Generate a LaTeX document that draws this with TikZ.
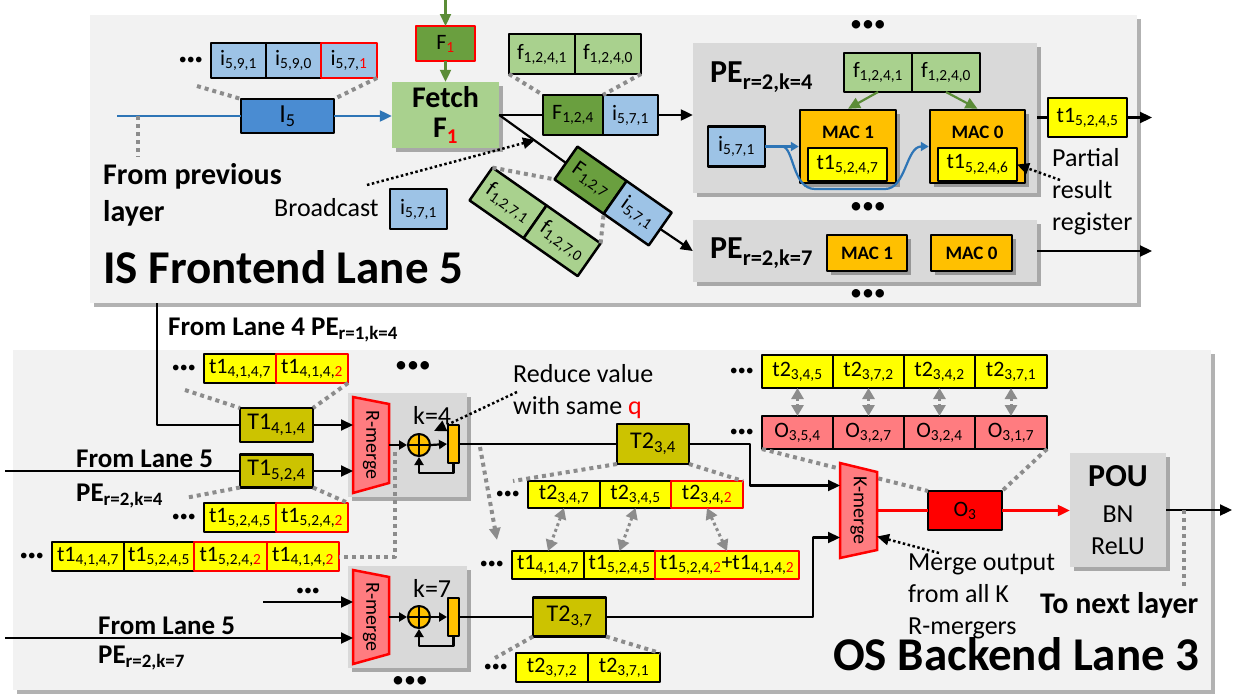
\documentclass[tikz,border=0pt]{standalone}
\usepackage{fontspec}
\setmainfont{Carlito}
\usepackage{xcolor}
\usetikzlibrary{arrows.meta,positioning,shadows,calc}

\definecolor{panel}{HTML}{F2F2F2}
\definecolor{pegray}{HTML}{D9D9D9}
\definecolor{iblue}{HTML}{9DC3E6}
\definecolor{Iblue}{HTML}{4A8CD2}
\definecolor{lineblue}{HTML}{2E75B6}
\definecolor{fgreen}{HTML}{A9D18E}
\definecolor{Fgreen}{HTML}{6A9F3F}
\definecolor{arrgreen}{HTML}{5B8C37}
\definecolor{tyellow}{HTML}{FFFF00}
\definecolor{Tolive}{HTML}{CCC300}
\definecolor{osalmon}{HTML}{FF7C80}
\definecolor{macorange}{HTML}{FFC000}
\definecolor{dotgray}{HTML}{8C8C8C}

\newcommand{\sbs}[1]{\textsubscript{#1}}
\newcommand{\redtxt}[1]{\textcolor{red}{#1}}
\newcommand{\fsz}[2]{\fontsize{#1}{#2}\selectfont}
\newcommand{\threedots}{\textbullet\textbullet\textbullet}

\tikzset{
  every picture/.style={line join=round, >={Triangle[length=12pt,width=11pt]}},
  shdw/.style={drop shadow={shadow xshift=4pt, shadow yshift=-4pt, opacity=.3, fill=black}},
  wire/.style={line width=2.2pt},
  bwire/.style={wire, draw=lineblue},
  gwire/.style={wire, draw=arrgreen},
  rwire/.style={wire, draw=red},
  sarr/.style={-{Triangle[length=8pt,width=9pt]}},
  gdot/.style={draw=dotgray, line width=4pt, dash pattern=on 4pt off 4pt},
  gdot2/.style={draw=dotgray, line width=3pt, dash pattern=on 3pt off 3pt, <->, >={Triangle[length=11pt,width=12pt]}},
  bdot/.style={line width=2.5pt, dash pattern=on 2.5pt off 2.5pt},
  cell/.style={draw, line width=2.5pt, inner sep=0pt, outer sep=0pt, font=\fsz{22}{24}},
  hot/.style={draw=red},
  ic/.style={cell, fill=iblue},
  fc/.style={cell, fill=fgreen},
  Fc/.style={cell, fill=Fgreen},
  tc/.style={cell, fill=tyellow},
  Tc/.style={cell, fill=Tolive, font=\fsz{24}{26}},
  oc/.style={cell, fill=osalmon},
  pe/.style={fill=pegray, inner sep=0pt, shdw},
  mac/.style={draw, line width=2.5pt, fill=macorange, inner sep=0pt, shdw},
  macl/.style={font=\bfseries\fsz{19}{22}, inner sep=0pt},
  fetch/.style={fill=fgreen, shdw, minimum width=107pt, minimum height=66pt, align=center, font=\bfseries\fsz{30}{30}},
  mergebox/.style={minimum width=36pt, inner sep=0pt, outer sep=0pt},
  mergeshape/.style={draw=red, line width=2.5pt, fill=osalmon, line join=miter},
  mergetxt/.style={rotate=-90, inner sep=0pt, font=\fsz{20}{22}},
  adder/.style={circle, draw, line width=2pt, fill=macorange, minimum size=22pt, inner sep=0pt},
  reg/.style={draw, line width=2pt, fill=macorange, minimum width=11pt, inner sep=0pt},
  txt/.style={inner sep=0pt, font=\fsz{26}{32}},
  lbl/.style={inner sep=0pt, font=\bfseries\fsz{27}{32}},
  biglbl/.style={inner sep=0pt, font=\bfseries\fsz{30}{37}},
  pelbl/.style={inner sep=0pt, font=\bfseries\fsz{32}{36}},
  ttl/.style={inner sep=0pt, font=\bfseries\fsz{47}{50}},
  dotsbig/.style={inner sep=0pt, font=\fsz{24}{24}},
  dotssm/.style={inner sep=0pt, font=\fsz{16}{16}},
}

\begin{document}
\begin{tikzpicture}[x=1pt, y=-1pt]
\useasboundingbox (0,0) rectangle (1239,696);

% ---------------- IS frontend lane ----------------
\fill[panel, shdw] (90,15) rectangle (1137,303);
\node[ttl, anchor=base west] (istitle) at (103,283) {IS Frontend Lane 5};
\node[biglbl, align=left, anchor=west] (prevl) at (103,195) {From previous\\layer};

% input stream
\node[ic, minimum width=55pt, minimum height=35pt, anchor=west] (i591) at (211,60.5) {i\sbs{5,9,1}};
\node[ic, minimum width=55pt, minimum height=35pt, right=0pt of i591] (i590) {i\sbs{5,9,0}};
\node[ic, hot, minimum width=56pt, minimum height=35pt, right=0pt of i590] (i571) {i\sbs{5,7,\redtxt{1}}};
\node[dotssm, left=8pt of i591] (idots) {\threedots};
\node[cell, fill=Iblue, minimum width=93pt, minimum height=34pt, font=\fsz{26}{28}] (I5) at (287.5,116) {I\sbs{5}};
\coordinate (prev) at (117,116);
\coordinate (prevtap) at (138,116);
\coordinate (prevend) at (138,157);

% fetch unit
\coordinate (ftop) at (445.5,0);
\node[Fc, hot, minimum width=59pt, minimum height=35pt] (F1) at (445.5,43.5) {F\sbs{\redtxt{1}}};
\node[fetch] (fetch) at (445.5,115) {Fetch\\F\sbs{\redtxt{1}}};

% to PE k=4
\node[Fc, minimum width=60pt, minimum height=40pt] (F124) at (573,115) {F\sbs{1,2,4}};
\node[ic, minimum width=55pt, minimum height=40pt, right=0pt of F124] (i571a) {i\sbs{5,7,1}};
\node[fc, minimum width=66pt, minimum height=40pt, anchor=west] (f1241) at (509,54) {f\sbs{1,2,4,1}};
\node[fc, minimum width=66pt, minimum height=40pt, right=0pt of f1241] (f1240) {f\sbs{1,2,4,0}};

% to PE k=7
\node[Fc, rotate=-35, minimum width=60pt, minimum height=40pt, anchor=west] (F127) at (566,163) {F\sbs{1,2,7}};
\node[ic, rotate=-35, minimum width=55pt, minimum height=40pt, right=0pt of F127] (i571b) {i\sbs{5,7,1}};
\node[fc, rotate=-35, minimum width=66pt, minimum height=40pt, anchor=west] (f1271) at (481,184) {f\sbs{1,2,7,1}};
\node[fc, rotate=-35, minimum width=66pt, minimum height=40pt, right=0pt of f1271] (f1270) {f\sbs{1,2,7,0}};

% broadcast note
\node[txt, anchor=base west] (bcast) at (274,216) {Broadcast};
\node[ic, minimum width=57pt, minimum height=40pt] (i571c) at (418.5,209) {i\sbs{5,7,1}};
\coordinate (bctail) at (367,185);
\coordinate (bchead) at (535,140);

% PE r=2,k=4
\node[pe, minimum width=344pt, minimum height=150pt] (pe4) at (865,118) {};
\node[pelbl, anchor=base west] (pe4l) at (710,82) {PE\sbs{r=2,k=4}};
\node[dotsbig] (pe4up) at (868,26) {\threedots};
\node[dotsbig] (pe4dn) at (868,208) {\threedots};
\node[fc, minimum width=68pt, minimum height=39pt, anchor=west] (f1241p) at (844,72.5) {f\sbs{1,2,4,1}};
\node[fc, minimum width=68pt, minimum height=39pt, right=0pt of f1241p] (f1240p) {f\sbs{1,2,4,0}};
\node[mac, minimum width=96pt, minimum height=73pt] (mac1) at (848,146.5) {};
\node[macl] (mac1l) at (848,132.5) {MAC 1};
\node[tc, minimum width=79pt, minimum height=33pt] (t15247) at (847.5,164.5) {t1\sbs{5,2,4,7}};
\node[mac, minimum width=95pt, minimum height=73pt] (mac0) at (977.5,146.5) {};
\node[macl] (mac0l) at (977.5,132.5) {MAC 0};
\node[tc, minimum width=79pt, minimum height=33pt] (t15246) at (977.5,164.5) {t1\sbs{5,2,4,6}};
\node[ic, minimum width=57pt, minimum height=40pt] (i571d) at (736.5,146.5) {i\sbs{5,7,1}};
\node[tc, minimum width=79pt, minimum height=39pt] (t15245o) at (1087.5,117.5) {t1\sbs{5,2,4,5}};
\coordinate (out4) at (1152,117.5);
\node[txt, align=left, anchor=west] (prl) at (1052,191.5) {Partial\\result\\register};
\coordinate (prtail) at (1060,180);

% PE r=2,k=7
\node[pe, minimum width=344pt, minimum height=62pt] (pe7) at (865,251) {};
\node[pelbl, anchor=base west] (pe7l) at (710,258) {PE\sbs{r=2,k=7}};
\node[mac, font=\bfseries\fsz{19}{22}, minimum width=80pt, minimum height=36pt] (mac1b) at (867,253) {MAC 1};
\node[mac, font=\bfseries\fsz{19}{22}, minimum width=81pt, minimum height=36pt] (mac0b) at (971.5,253) {MAC 0};
\node[dotsbig] (pe7dn) at (868,295) {\threedots};
\coordinate (out7) at (1152,251);

% frontend connectors
\draw[gwire,->] (ftop) -- (F1.north);
\draw[gwire,->] (F1.south) -- (fetch.north);
\draw[bwire] (prev) -- (I5.west);
\draw[bwire,->] (I5.east) -- (I5.east -| fetch.west);
\draw[gdot] (prevtap) -- (prevend);
\draw[gdot] ([shift={(-14,8)}]i591.south west) -- (I5.north west);
\draw[gdot] (i571.south east) -- (I5.north east);
\draw[wire] (fetch.east) -- (F124.west);
\draw[wire,->] (i571a.east) -- (i571a.east -| pe4.west);
\draw[gdot] (f1241.south west) -- (F124.north west);
\draw[gdot] (f1240.south east) -- (F124.north east);
\draw[wire] (fetch.east) -- (F127.west);
\draw[wire,->] (i571b.east) -- (pe7.west);
\draw[gdot] (f1271.north west) -- (F127.south west);
\draw[gdot] (f1270.north east) -- (F127.south east);
\draw[bdot,->] (bctail) -- (bchead);
\draw[gwire,->] (f1241p.south) -- (mac1.north);
\draw[gwire,->] (f1240p.south) -- (mac0.north);
\draw[bwire,sarr] (i571d.east) -- (mac1.west);
\draw[bwire,sarr] ([xshift=17pt]i571d.east) .. controls (794,146.5) and (792,189) .. (815,189)
  -- (885,189) .. controls (906,189) and (906,146.5) .. (mac0.west);
\draw[wire] (t15245o.west -| pe4.east) -- (t15245o.west);
\draw[wire,->] (t15245o.east) -- (out4);
\draw[bdot,->] (prtail) -- (t15246.east);
\draw[wire,->] (pe7.east) -- (out7);

% ---------------- OS backend lane ----------------
\fill[panel, shdw] (13,350) rectangle (1211,690);
\node[ttl, anchor=base west] (ostitle) at (833,670) {OS Backend Lane 3};

% inputs of R-merger k=4
\coordinate (lane4) at (157,303);
\node[lbl, anchor=base west] (lane4l) at (168,335) {From Lane 4 PE\sbs{r=1,k=4}};
\node[tc, minimum width=72pt, minimum height=29pt, anchor=west] (t14147) at (204,368.5) {t1\sbs{4,1,4,7}};
\node[tc, hot, minimum width=72pt, minimum height=29pt, right=0pt of t14147] (t14142) {t1\sbs{4,1,4,\redtxt{2}}};
\node[dotssm, left=8pt of t14147] (d14) {\threedots};
\node[dotsbig] (rg1up) at (413,367) {\threedots};
\node[Tc, minimum width=73pt, minimum height=34pt] (T1414) at (276.5,425) {T1\sbs{4,1,4}};

\coordinate (lane5a) at (5,471);
\node[lbl, anchor=base west] (lane5al) at (76,467) {From Lane 5};
\node[lbl, anchor=base west] (lane5ap) at (76,501) {PE\sbs{r=2,k=4}};
\node[Tc, minimum width=73pt, minimum height=33pt] (T1524) at (276.5,471) {T1\sbs{5,2,4}};
\node[tc, minimum width=72pt, minimum height=29pt, anchor=west] (t15245) at (204,517.5) {t1\sbs{5,2,4,5}};
\node[tc, hot, minimum width=72pt, minimum height=29pt, right=0pt of t15245] (t15242) {t1\sbs{5,2,4,\redtxt{2}}};
\node[dotssm, left=8pt of t15245] (d15) {\threedots};

% merged queue
\node[tc, minimum width=72pt, minimum height=29pt, anchor=west] (qa) at (52,556.5) {t1\sbs{4,1,4,7}};
\node[tc, minimum width=70pt, minimum height=29pt, right=0pt of qa] (qb) {t1\sbs{5,2,4,5}};
\node[tc, hot, minimum width=73pt, minimum height=29pt, right=0pt of qb] (qc) {t1\sbs{5,2,4,\redtxt{2}}};
\node[tc, hot, minimum width=72pt, minimum height=29pt, right=0pt of qc] (qd) {t1\sbs{4,1,4,\redtxt{2}}};
\node[dotssm, left=8pt of qa] (dq) {\threedots};

% R-merger k=4
\node[pe, minimum width=119pt, minimum height=104pt] (rg1) at (407.5,445) {};
\node[mergebox, minimum height=96pt] (rm1) at (371,445) {};
\filldraw[mergeshape] (rm1.north west) -- ([yshift=-7pt]rm1.north east) -- ([yshift=10pt]rm1.south east) -- (rm1.south west) -- cycle;
\node[mergetxt] (rm1t) at (rm1.center) {R-merge};
\node[adder] (add1) at (419,445) {};
\node[reg, minimum height=38pt] (reg1) at (453.5,444) {};
\node[txt, anchor=base west] (k4) at (413,424) {k=4};
\node[txt, align=left, anchor=west] (redl) at (513,392) {Reduce value\\with same \redtxt{q}};
\coordinate (redtail) at (517,392);
\coordinate (tap1) at (395,452);
\coordinate (rgtap) at (480,447);
\coordinate (sumtap) at (497,540);

\node[Tc, minimum width=72pt, minimum height=40pt] (T234) at (653,444) {T2\sbs{3,4}};
\node[tc, minimum width=72pt, minimum height=27pt, anchor=west] (t2347) at (528,494.5) {t2\sbs{3,4,7}};
\node[tc, minimum width=71pt, minimum height=27pt, right=0pt of t2347] (t2345) {t2\sbs{3,4,5}};
\node[tc, hot, minimum width=72pt, minimum height=27pt, right=0pt of t2345] (t2342) {t2\sbs{3,4,\redtxt{2}}};
\node[dotssm, left=8pt of t2347] (dt2) {\threedots};

\node[tc, minimum width=72pt, minimum height=28pt, anchor=west] (s1) at (512,565) {t1\sbs{4,1,4,7}};
\node[tc, minimum width=71pt, minimum height=28pt, right=0pt of s1] (s2) {t1\sbs{5,2,4,5}};
\node[tc, hot, minimum width=144pt, minimum height=28pt, right=0pt of s2] (s3) {t1\sbs{5,2,4,\redtxt{2}}+t1\sbs{4,1,4,\redtxt{2}}};
\node[dotssm, left=8pt of s1] (ds) {\threedots};

% R-merger k=7
\coordinate (dotsin) at (263,602);
\node[dotssm] (din) at (308,592) {\threedots};
\coordinate (lane5b) at (5,638);
\node[lbl, anchor=base west] (lane5bl) at (98,634) {From Lane 5};
\node[lbl, anchor=base west] (lane5bp) at (98,663) {PE\sbs{r=2,k=7}};
\node[pe, minimum width=119pt, minimum height=102pt] (rg2) at (407.5,617) {};
\node[mergebox, minimum height=94pt] (rm2) at (371,617) {};
\filldraw[mergeshape] (rm2.north west) -- ([yshift=-7pt]rm2.north east) -- ([yshift=10pt]rm2.south east) -- (rm2.south west) -- cycle;
\node[mergetxt] (rm2t) at (rm2.center) {R-merge};
\node[adder] (add2) at (419,617) {};
\node[reg, minimum height=38pt] (reg2) at (453.5,617) {};
\node[txt, anchor=base west] (k7) at (413,597) {k=7};
\node[dotsbig] (rg2dn) at (410,682) {\threedots};

\node[Tc, minimum width=73pt, minimum height=39pt] (T237) at (569.5,617) {T2\sbs{3,7}};
\node[tc, minimum width=72pt, minimum height=29pt, anchor=west] (t2372) at (516,667.5) {t2\sbs{3,7,2}};
\node[tc, minimum width=72pt, minimum height=29pt, right=0pt of t2372] (t2371) {t2\sbs{3,7,1}};
\node[dotssm, left=8pt of t2372] (dt3) {\threedots};

% K-merger and output
\node[tc, minimum width=71pt, minimum height=33pt, anchor=west] (u1) at (762,371.5) {t2\sbs{3,4,5}};
\node[tc, minimum width=71pt, minimum height=33pt, right=0pt of u1] (u2) {t2\sbs{3,7,2}};
\node[tc, minimum width=71pt, minimum height=33pt, right=0pt of u2] (u3) {t2\sbs{3,4,2}};
\node[tc, minimum width=72pt, minimum height=33pt, right=0pt of u3] (u4) {t2\sbs{3,7,1}};
\node[dotssm, left=8pt of u1] (du) {\threedots};
\node[oc, minimum width=71pt, minimum height=33pt, anchor=west] (o1) at (762,432.5) {O\sbs{3,5,4}};
\node[oc, minimum width=71pt, minimum height=33pt, right=0pt of o1] (o2) {O\sbs{3,2,7}};
\node[oc, minimum width=71pt, minimum height=33pt, right=0pt of o2] (o3) {O\sbs{3,2,4}};
\node[oc, minimum width=72pt, minimum height=33pt, right=0pt of o3] (o4) {O\sbs{3,1,7}};
\node[dotssm, left=8pt of o1] (doo) {\threedots};

\node[cell, fill=red, minimum width=74pt, minimum height=39pt] (O3) at (965,510.5) {O\sbs{3}};
\draw[gdot] (o1.south west) -- (O3.north west);
\draw[gdot] (o4.south east) -- (O3.north east);
\node[mergebox, minimum width=37pt, minimum height=95pt] (km) at (858.5,510.5) {};
\filldraw[mergeshape] (km.north west) -- ([yshift=-9pt]km.north east) -- ([yshift=8pt]km.south east) -- (km.south west) -- cycle;
\node[mergetxt] (kmt) at (km.center) {K-merge};
\node[pe, minimum width=96pt, minimum height=114pt, align=center, font=\fsz{26}{32}] (pou) at (1118,510)
  {{\bfseries\fsz{32}{32}POU}\\[4pt]BN\\ReLU};
\coordinate (nextl) at (1232,510);
\coordinate (nxta) at (1184,510);
\coordinate (nxtb) at (1184,588);
\node[biglbl, anchor=base west] (nxt) at (1040,613) {To next layer};
\node[txt, align=left, anchor=west] (mrgl) at (908,596) {Merge output\\from all K\\R-mergers};
\coordinate (mrgtail) at (939,553);

% backend connectors
\draw[wire] (lane4) |- (T1414.west);
\draw[wire,->] (T1414.east) -- (T1414.east -| rm1.west);
\draw[gdot] ([shift={(-19,7)}]t14147.south west) -- (T1414.north west);
\draw[gdot] (t14142.south east) -- (T1414.north east);
\draw[wire] (lane5a) -- (T1524.west);
\draw[wire,->] (T1524.east) -- (T1524.east -| rm1.west);
\draw[gdot] (T1524.south west) -- ([shift={(-19,-5)}]t15245.north west);
\draw[gdot] (T1524.south east) -- (t15242.north east);
\draw[wire,sarr] (rm1.east) -- (add1.west);
\draw[line width=2pt] (add1.north) -- (add1.south) (add1.west) -- (add1.east);
\draw[wire,sarr] (add1.east) -- (reg1.west);
\draw[wire,sarr] (reg1.south) -- ++(0,9) -| (add1.south);
\draw[gdot] (tap1) |- (qd.east);
\draw[wire] (reg1.east) -- (T234.west);
\draw[wire,->] (T234.east) -- ++(61,0) |- ([yshift=25pt]km.west);
\draw[gdot] (T234.south west) -- ([xshift=-15pt]t2347.north west);
\draw[gdot] (T234.south east) -- (t2342.north east);
\draw[bdot,->] (redtail) -- ([shift={(-13,7)}]reg1.north west);
\draw[gdot,->] (rgtap) -- (sumtap);
\draw[gdot2] (t2347.south) -- (s1.north);
\draw[gdot2] (t2345.south) -- (s2.north);
\draw[gdot2] (t2342.south) -- (s3.north);

\draw[wire,->] (dotsin) -- (dotsin -| rm2.west);
\draw[wire,->] (lane5b) -- (lane5b -| rm2.west);
\draw[wire,sarr] (rm2.east) -- (add2.west);
\draw[line width=2pt] (add2.north) -- (add2.south) (add2.west) -- (add2.east);
\draw[wire,sarr] (add2.east) -- (reg2.west);
\draw[wire,sarr] (reg2.south) -- ++(0,9) -| (add2.south);
\draw[wire] (reg2.east) -- (T237.west);
\draw[wire,->] (T237.east) -- ++(207,0) |- ([yshift=-27pt]km.west);
\draw[gdot] (T237.south west) -- ([shift={(-21,5)}]t2372.north west);
\draw[gdot] (T237.south east) -- (t2371.north east);

\draw[gdot2] (u1.south) -- (o1.north);
\draw[gdot2] (u2.south) -- (o2.north);
\draw[gdot2] (u3.south) -- (o3.north);
\draw[gdot2] (u4.south) -- (o4.north);
\draw[rwire] (km.east) -- (O3.west);
\draw[rwire,->] (O3.east) -- (O3.east -| pou.west);
\draw[wire,->] (pou.east) -- (nextl);
\draw[gdot] (nxta) -- (nxtb);
\draw[bdot,->] (mrgtail) -- ([yshift=-26pt]km.east);
\end{tikzpicture}
\end{document}
